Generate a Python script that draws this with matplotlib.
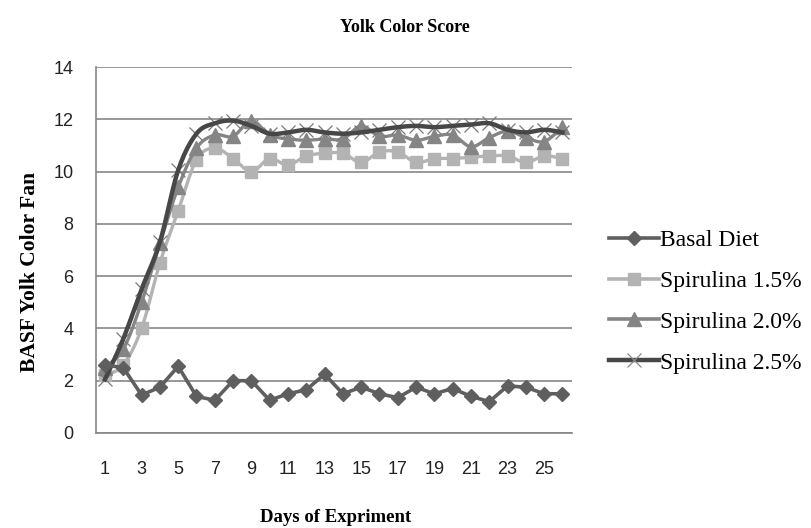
import numpy as np
import matplotlib
matplotlib.use("Agg")
import matplotlib.pyplot as plt
from matplotlib.lines import Line2D

days = list(range(1, 27))

basal = [2.6, 2.5, 1.45, 1.75, 2.55, 1.4, 1.25, 2.0, 2.0, 1.25, 1.5, 1.65, 2.25,
         1.5, 1.75, 1.5, 1.35, 1.75, 1.5, 1.7, 1.4, 1.2, 1.8, 1.75, 1.5, 1.5]
spir_15 = [2.2, 2.6, 4.0, 6.5, 8.5, 10.45, 10.9, 10.5, 10.0, 10.5, 10.25, 10.6, 10.7,
           10.7, 10.35, 10.75, 10.75, 10.35, 10.5, 10.5, 10.55, 10.6, 10.6, 10.35, 10.6, 10.5]
spir_20 = [2.5, 3.2, 5.0, 7.25, 9.4, 10.9, 11.4, 11.35, 11.95, 11.4, 11.25, 11.2, 11.25,
           11.25, 11.75, 11.35, 11.4, 11.2, 11.35, 11.4, 10.95, 11.3, 11.55, 11.3, 11.15, 11.7]
spir_25 = [2.05, 3.6, 5.5, 7.3, 10.05, 11.45, 11.85, 11.95, 11.75, 11.45, 11.5, 11.6, 11.5,
           11.45, 11.5, 11.6, 11.7, 11.75, 11.7, 11.75, 11.8, 11.85, 11.6, 11.5, 11.6, 11.5]

yticks = [0, 2, 4, 6, 8, 10, 12, 14]
xtick_labels = [1, 3, 5, 7, 9, 11, 13, 15, 17, 19, 21, 23, 25]
labels = ["Basal Diet", "Spirulina 1.5%", "Spirulina 2.0%", "Spirulina 2.5%"]


def smooth(x, y, n=12):
    # catmull-rom curve through the points, like Excel's smoothed line
    x = np.asarray(x, float)
    y = np.asarray(y, float)
    px = np.concatenate([[2 * x[0] - x[1]], x, [2 * x[-1] - x[-2]]])
    py = np.concatenate([[2 * y[0] - y[1]], y, [2 * y[-1] - y[-2]]])
    xs, ys = [], []
    t = np.linspace(0, 1, n, endpoint=False)
    for i in range(1, len(px) - 2):
        for arr, out in ((px, xs), (py, ys)):
            p0, p1, p2, p3 = arr[i - 1], arr[i], arr[i + 1], arr[i + 2]
            out.extend(0.5 * (2 * p1 + (-p0 + p2) * t + (2 * p0 - 5 * p1 + 4 * p2 - p3) * t ** 2
                              + (-p0 + 3 * p1 - 3 * p2 + p3) * t ** 3))
    xs.append(x[-1])
    ys.append(y[-1])
    return xs, ys


fig = plt.figure(figsize=(8.12, 5.28), dpi=100)
ax = fig.add_axes([0.118, 0.180, 0.586, 0.693])

serif = "Liberation Serif"

c_basal = "#5f5f5f"
c_15 = "#b3b3b3"
c_20 = "#858585"
c_25 = "#474747"

# 1.5%
sx, sy = smooth(days, spir_15)
ax.plot(sx, sy, color=c_15, lw=2.4, zorder=3)
ax.plot(days, spir_15, ls="none", marker="s", ms=9, color=c_15, zorder=3)
# 2.0%
sx, sy = smooth(days, spir_20)
ax.plot(sx, sy, color=c_20, lw=2.4, zorder=4)
ax.plot(days, spir_20, ls="none", marker="^", ms=10, color=c_20, zorder=4)
# 2.5%
sx, sy = smooth(days, spir_25)
ax.plot(days, spir_25, ls="none", marker="x", ms=10, mew=0.9, color="#7a7a7a", zorder=5)
ax.plot(sx, sy, color=c_25, lw=3.2, zorder=5)
# basal
ax.plot(days, basal, color=c_basal, lw=2.6, marker="D", ms=7.5, zorder=6)

ax.set_xlim(0.5, 26.5)
ax.set_ylim(0, 14)
ax.set_yticks(yticks)
ax.set_xticks(xtick_labels)
ax.set_xticklabels([str(v) for v in xtick_labels])
ax.tick_params(axis="both", length=0, labelsize=13, colors="#222222")
ax.tick_params(axis="y", pad=16)
ax.tick_params(axis="x", pad=20)
for lab in ax.get_xticklabels() + ax.get_yticklabels():
    lab.set_fontfamily("Liberation Sans")

ax.grid(axis="y", color="#868686", lw=1.2)
ax.set_axisbelow(True)
for s in ["top", "right"]:
    ax.spines[s].set_visible(False)
for s in ["left", "bottom"]:
    ax.spines[s].set_color("#868686")
    ax.spines[s].set_linewidth(1.2)

fig.text(0.499, 0.948, "Yolk Color Score", ha="center", va="center",
         fontsize=13, fontweight="bold", family=serif)
fig.text(0.413, 0.020, "Days of Expriment", ha="center", va="center",
         fontsize=13.5, fontweight="bold", family=serif)
fig.text(0.037, 0.485, "BASF Yolk Color Fan", ha="center", va="center", rotation=90,
         fontsize=15.5, fontweight="bold", family=serif)

# legend
handles = [
    Line2D([], [], color=c_basal, lw=2.6, marker="D", ms=7),
    Line2D([], [], color=c_15, lw=2.6, marker="s", ms=9),
    Line2D([], [], color=c_20, lw=2.6, marker="^", ms=10),
    Line2D([], [], color=c_25, lw=3.2, marker="x", ms=10, mew=0.9, mec="#8a8a8a"),
]
fig.legend(handles, labels, loc="center left", bbox_to_anchor=(0.724, 0.429),
           frameon=False, prop={"family": serif, "size": 17}, handlelength=2.1,
           handletextpad=0.05, labelspacing=0.82)

fig.savefig("out.png", dpi=100)
